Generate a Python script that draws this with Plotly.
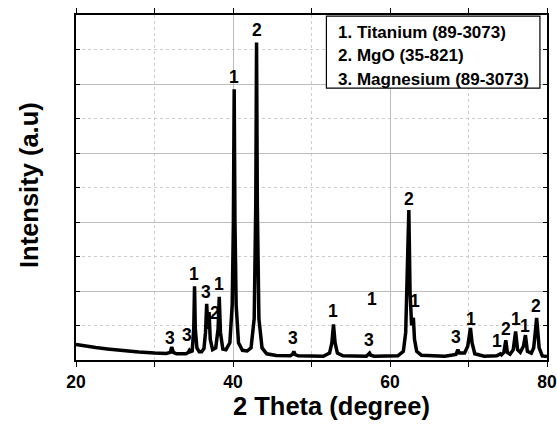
import plotly.graph_objects as go

# Diffraction pattern vertices (2θ in degrees, intensity in arbitrary units)
two_theta = [20.0, 21.0, 22.5, 24.0, 26.0, 28.0, 30.0, 31.5, 32.0, 32.2, 32.4, 32.8,
             34.0, 34.3, 34.45, 34.6, 34.8, 35.0, 35.1, 35.2, 35.4, 35.7, 36.0, 36.3,
             36.5, 36.65, 36.8, 36.95, 37.1, 37.4, 37.8, 38.1, 38.25, 38.4, 38.7, 39.1,
             39.6, 39.9, 40.05, 40.15, 40.25, 40.4, 40.7, 41.2, 41.8, 42.3, 42.7, 42.9,
             43.0, 43.1, 43.3, 43.7, 44.3, 45.5, 47.3, 47.6, 47.75, 47.9, 48.3, 51.5,
             52.3, 52.6, 52.8, 53.0, 53.3, 54.0, 57.0, 57.25, 57.4, 57.55, 58.0, 61.0,
             61.7, 62.0, 62.2, 62.4, 62.55, 62.75, 62.88, 62.98, 63.12, 63.4, 64.0, 67.0,
             68.4, 68.65, 68.85, 69.5, 69.9, 70.1, 70.25, 70.45, 70.8, 72.0, 73.6, 73.9,
             74.05, 74.2, 74.5, 74.75, 74.95, 75.3, 75.7, 76.0, 76.25, 76.6, 77.0, 77.25,
             77.5, 78.0, 78.3, 78.55, 78.68, 78.8, 79.0, 79.4, 80.0]
intensity = [0.45, 0.41, 0.36, 0.32, 0.27, 0.23, 0.20, 0.19, 0.22, 0.38, 0.22, 0.18,
             0.18, 0.22, 0.28, 0.24, 0.26, 0.90, 2.14, 0.90, 0.35, 0.24, 0.24, 0.33,
             0.80, 1.63, 0.90, 1.39, 0.60, 0.30, 0.35, 0.90, 1.83, 0.80, 0.32, 0.30,
             0.50, 1.60, 4.00, 7.85, 4.00, 1.60, 0.50, 0.28, 0.26, 0.35, 1.20, 4.50,
             9.20, 4.50, 1.20, 0.35, 0.18, 0.13, 0.12, 0.17, 0.25, 0.16, 0.12, 0.11,
             0.20, 0.50, 1.03, 0.50, 0.20, 0.12, 0.11, 0.15, 0.20, 0.14, 0.11, 0.12,
             0.25, 0.80, 2.50, 4.35, 2.00, 1.00, 1.15, 1.22, 0.60, 0.25, 0.14, 0.11,
             0.16, 0.30, 0.20, 0.20, 0.40, 0.70, 0.93, 0.50, 0.18, 0.11, 0.12, 0.16,
             0.18, 0.15, 0.22, 0.57, 0.22, 0.17, 0.30, 0.83, 0.30, 0.22, 0.40, 0.72,
             0.25, 0.20, 0.35, 0.90, 1.22, 0.90, 0.35, 0.12, 0.10]

# Phase labels placed over the peaks
label_text = ["3", "3", "1", "3", "2", "1", "1", "2", "3", "1", "1", "3", "2", "1",
              "3", "1", "1", "2", "1", "1", "2"]
label_x = [32.0, 34.2, 35.08, 36.57, 37.7, 38.23, 40.14, 43.0, 47.66, 52.76, 57.73, 57.3,
           62.45, 63.17, 68.4, 70.27, 73.58, 74.77, 76.0, 77.2, 78.6]
label_y = [0.64, 0.72, 2.5, 1.97, 1.35, 2.21, 8.21, 9.57, 0.65, 1.42, 1.76, 0.59,
           4.66, 1.7, 0.67, 1.18, 0.54, 0.91, 1.2, 1.0, 1.57]

legend_lines = ["1. Titanium (89-3073)", "2. MgO (35-821)", "3. Magnesium (89-3073)"]

x_title = "2 Theta (degree)"
y_title = "Intensity (a.u)"

FONT = "Arial"

fig = go.Figure()
fig.add_trace(go.Scatter(x=two_theta, y=intensity, mode="lines",
                         line=dict(color="black", width=3.5), showlegend=False,
                         hoverinfo="skip"))

for t, xx, yy in zip(label_text, label_x, label_y):
    fig.add_annotation(x=xx, y=yy, text="<b>" + t + "</b>", showarrow=False,
                       font=dict(family=FONT, size=17.5, color="black"),
                       xanchor="center", yanchor="middle")

# legend box
fig.add_shape(type="rect", xref="x", yref="y", x0=51.9, x1=79.1, y0=7.88, y1=9.97,
              line=dict(color="black", width=1.2), fillcolor="white", layer="above")
leg_y = [9.48, 8.82, 8.14]
for t, yy in zip(legend_lines, leg_y):
    fig.add_annotation(x=53.15, y=yy, text="<b>" + t + "</b>", showarrow=False,
                       xanchor="left", yanchor="middle",
                       font=dict(family=FONT, size=17, color="black"))

# axis titles
fig.add_annotation(xref="paper", yref="paper", x=(331 - 76) / 471, y=-(406 - 360) / 345,
                   text="<b>" + x_title + "</b>", showarrow=False, xanchor="center",
                   yanchor="middle", font=dict(family=FONT, size=25.5, color="black"))
fig.add_annotation(xref="paper", yref="paper", x=-(76 - 29) / 471, y=(360 - 185) / 345,
                   text="<b>" + y_title + "</b>", showarrow=False, textangle=-90,
                   xanchor="center", yanchor="middle",
                   font=dict(family=FONT, size=25.5, color="black"))

fig.update_layout(
    width=557, height=424,
    margin=dict(l=76, r=10, t=15, b=64, autoexpand=False),
    paper_bgcolor="white", plot_bgcolor="white",
    showlegend=False,
    font=dict(family=FONT, color="black"),
)
fig.update_xaxes(
    automargin=False,
    range=[20, 80], tickvals=[20, 40, 60, 80],
    ticktext=["<b>20</b>", "<b>40</b>", "<b>60</b>", "<b>80</b>"],
    tickfont=dict(family=FONT, size=17.5, color="black"),
    showline=True, linecolor="black", linewidth=1.5, mirror="ticks",
    ticks="outside", ticklen=5, tickcolor="black", tickwidth=1,
    showgrid=True, gridcolor="#bdbdbd", gridwidth=1.3,
    minor=dict(tickvals=[30, 50, 70], ticks="outside", ticklen=5, tickcolor="black",
               showgrid=True, gridcolor="#cccccc", griddash="dot", gridwidth=1),
    zeroline=False,
)
fig.update_yaxes(
    automargin=False,
    range=[0, 10], tickvals=[2, 4, 6, 8], showticklabels=False,
    showline=True, linecolor="black", linewidth=1.5, mirror="ticks",
    ticks="inside", ticklen=4, tickcolor="black",
    showgrid=True, gridcolor="#bdbdbd", gridwidth=1.3,
    minor=dict(tickvals=[1, 3, 5, 7, 9], ticks="inside", ticklen=4, tickcolor="black",
               showgrid=True, gridcolor="#cccccc", griddash="dot", gridwidth=1),
    zeroline=False,
)

fig.write_html("out.html")
